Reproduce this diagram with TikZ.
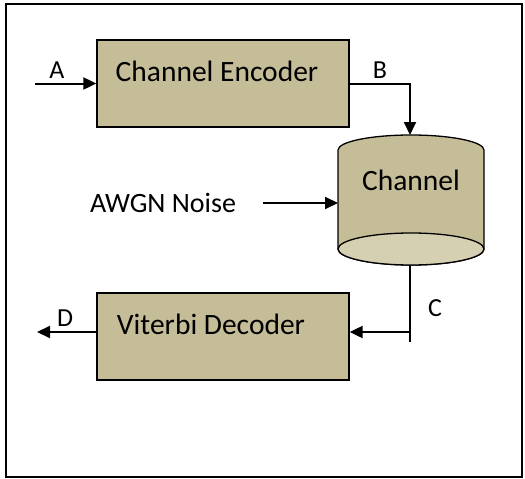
\documentclass[tikz,border=0pt]{standalone}
\usepackage{fontspec}
\setmainfont{Carlito}
\usepackage{tikz}
\usetikzlibrary{calc,arrows.meta}
\definecolor{boxfill}{HTML}{C4BD97}
\definecolor{endfill}{HTML}{D6D0B2}
\definecolor{ink}{HTML}{000000}
\tikzset{
  blk/.style={draw=ink, fill=boxfill, line width=1.3pt, minimum width=252pt, minimum height=87pt, inner sep=0pt},
  flow/.style={draw=ink, line width=2pt, -{Triangle[length=13pt,width=12pt]}},
  wire/.style={draw=ink, line width=1.5pt},
  lab/.style={text=ink, font=\fontsize{29.5}{33}\selectfont, inner sep=0pt},
  labs/.style={text=ink, font=\fontsize{26}{30}\selectfont, inner sep=0pt},
}
\begin{document}
\begin{tikzpicture}[x=1pt,y=-1pt]
  \useasboundingbox (0,0) rectangle (525,479);
  \draw[ink, line width=1.5pt] (6,4) rectangle (522,477);

  % blocks
  \node[blk, label={[lab, anchor=center, xshift=-6pt, yshift=-32pt]north:Channel Encoder}] (enc) at (223,83.5) {};
  \node[blk, label={[lab, anchor=center, xshift=-12pt, yshift=-32pt]north:Viterbi Decoder}] (dec) at (223,336.5) {};

  % channel (cylinder)
  \filldraw[fill=boxfill, draw=ink, line width=1.3pt]
    (338,150) -- (338,249) arc[start angle=180, end angle=0, x radius=73, y radius=16]
    -- (484,150) arc[start angle=0, end angle=-180, x radius=73, y radius=15] -- cycle;
  \filldraw[fill=endfill, draw=ink, line width=1.3pt] (411,249) ellipse[x radius=73, y radius=16];
  \node[lab] (chan) at (411,180) {Channel};
  \coordinate (chtop) at (410,135);
  \coordinate (chleft) at (338,203);
  \coordinate (chbot) at (410,265);

  \node[lab, font=\fontsize{28}{32}\selectfont] (awgn) at (163,203) {AWGN Noise};

  % signals
  \coordinate (ain) at (35,83.5);
  \coordinate (ctap) at (410,332);
  \coordinate (cend) at (410,342);
  \coordinate (dout) at (37,332);
  \draw[flow] (ain) -- (enc.west);
  \draw[flow] (enc.east) -| (chtop);
  \draw[flow] ([xshift=27pt]awgn.east) -- (chleft);
  \draw[wire] (chbot) -- (cend);
  \draw[flow] (ctap) -- (ctap -| dec.east);
  \draw[flow] (ctap -| dec.west) -- (dout);

  \node[labs] (la) at (57,70) {A};
  \node[labs] (lb) at (380,70) {B};
  \node[labs] (lc) at (435,308) {C};
  \node[labs] (ld) at (65,318) {D};
\end{tikzpicture}
\end{document}
